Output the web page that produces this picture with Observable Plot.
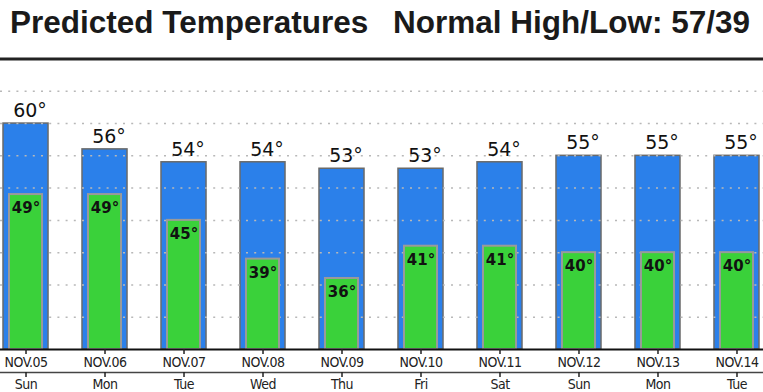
<!DOCTYPE html>
<html><head><meta charset="utf-8">
<script src="https://cdn.jsdelivr.net/npm/d3@7"></script>
<script src="https://cdn.jsdelivr.net/npm/@observablehq/plot@0.6"></script>
<style>
body{margin:0;background:#fff;width:763px;height:392px;overflow:hidden}
#title{position:relative;height:57px;font-family:"Liberation Sans",Arial,sans-serif;font-weight:bold;font-size:31.5px;line-height:32px;color:#1a1a1a}
#title span{position:absolute;top:6px;white-space:nowrap}
#chart svg{display:block}
#chart g[aria-label="x-axis tick label"] text{letter-spacing:-0.5px}
</style></head><body>
<div id="title"><span style="left:10px">Predicted Temperatures</span><span style="left:393px">Normal High/Low: 57/39</span></div>
<div id="chart"></div>
<script>
const dates = ["NOV.05","NOV.06","NOV.07","NOV.08","NOV.09","NOV.10","NOV.11","NOV.12","NOV.13","NOV.14"];
const days = ["Sun","Mon","Tue","Wed","Thu","Fri","Sat","Sun","Mon","Tue"];
const highs = [60,56,54,54,53,53,54,55,55,55];
const lows = [49,49,45,39,36,41,41,40,40,40];
const yDomain = [25,70];
const yGrid = [30,35,40,45,50,55,60,65];

const data = dates.map((d,i)=>({date:d, day:days[i], high:highs[i], low:lows[i]}));
const yBase = yDomain[0];
const yTopLine = yDomain[1];

const plot = Plot.plot({
  width: 763, height: 335,
  marginLeft: 3, marginRight: 4, marginTop: 1.5, marginBottom: 43,
  x: {type: "band", domain: dates, paddingInner: 0.43, paddingOuter: 0, align: 0.5, round: false},
  y: {domain: yDomain, axis: null},
  style: {background: "#fff", fontFamily: "DejaVu Sans", color: "#111", overflow: "visible"},
  marks: [
    Plot.barY(data, {x: "date", y1: yBase, y2: "high", fill: "#2b80ea", stroke: "#6a6a6a", strokeWidth: 1.5}),
    Plot.ruleY(yGrid, {stroke: "#b8b8b8", strokeWidth: 1.5, strokeDasharray: "2,6.2", insetLeft: -3, insetRight: -4}),
    Plot.barY(data, {x: "date", y1: yBase, y2: "low", fill: "#3ad13a", stroke: "#9a9a9a", strokeWidth: 2, insetLeft: 6, insetRight: 6}),
    Plot.ruleY([yTopLine], {stroke: "#222", strokeWidth: 3, insetLeft: -3, insetRight: -4}),
    Plot.ruleY([yBase], {stroke: "#111", strokeWidth: 2, insetLeft: -3, insetRight: -4}),
    Plot.ruleY([yBase], {dy: 23, stroke: "#444", strokeWidth: 1.5, insetLeft: -3, insetRight: -4}),
    Plot.text(data, {x: "date", y: "high", text: d => d.high + "°", lineAnchor: "bottom", dy: -6.5, dx: 4, fontSize: 19, fontFamily: "DejaVu Sans", fill: "#111"}),
    Plot.text(data, {x: "date", y: "low", text: d => d.low + "°", lineAnchor: "bottom", dy: 18.5, fontSize: 15, fontWeight: "bold", fontFamily: "DejaVu Sans", fill: "#111"}),
    Plot.axisX({tickSize: 5, tickPadding: 3, fontSize: 14, fontFamily: "DejaVu Sans Condensed", stroke: "#222", fill: "#222", strokeWidth: 1.5, label: null}),
    Plot.axisX({tickSize: 5, tickPadding: 1.5, dy: 23, tickFormat: d => days[dates.indexOf(d)], fontSize: 14, fontFamily: "DejaVu Sans Condensed", stroke: "#222", fill: "#222", strokeWidth: 1.5, label: null})
  ]
});
document.getElementById("chart").appendChild(plot);
</script>
</body></html>
